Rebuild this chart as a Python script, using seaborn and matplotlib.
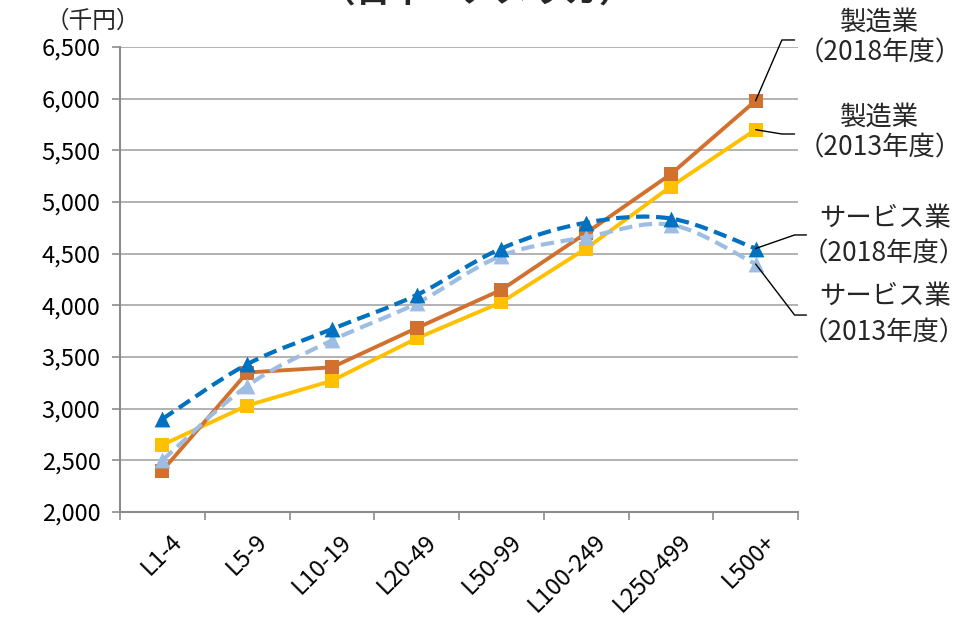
import numpy as np
import pandas as pd
import matplotlib
matplotlib.use("Agg")
import matplotlib.pyplot as plt
from matplotlib.path import Path
from matplotlib.patches import PathPatch
import seaborn as sns

# ---- data -------------------------------------------------------------
sizes = ["L1-4", "L5-9", "L10-19", "L20-49", "L50-99", "L100-249", "L250-499", "L500+"]
mfg_2018 = [2400, 3350, 3400, 3780, 4150, 4700, 5270, 5980]
mfg_2013 = [2650, 3030, 3270, 3680, 4030, 4550, 5150, 5700]
svc_2018 = [2900, 3430, 3770, 4100, 4550, 4800, 4840, 4550]
svc_2013 = [2500, 3220, 3660, 4020, 4480, 4660, 4780, 4400]
y_ticks = [2000, 2500, 3000, 3500, 4000, 4500, 5000, 5500, 6000, 6500]

label_mfg18 = ["製造業", "（2018年度）"]
label_mfg13 = ["製造業", "（2013年度）"]
label_svc18 = ["サービス業", "（2018年度）"]
label_svc13 = ["サービス業", "（2013年度）"]
unit_label = "（千円）"
title_text = "（日本・アメリカ）"

# ---- style ------------------------------------------------------------
sns.set_theme(style="white")
plt.rcParams["font.family"] = ["Noto Sans CJK JP", "DejaVu Sans"]

C_ORANGE = "#D2702E"
C_YELLOW = "#FFC000"
C_BLUE = "#0070C0"
C_LBLUE = "#9DBDE3"
GRID = "#A6A6A6"

W, H = 965, 622
fig = plt.figure(figsize=(W / 100, H / 100), dpi=100)
ax = fig.add_axes([120 / W, 1 - 512 / H, (798 - 120) / W, (512 - 47) / H])

x = np.arange(len(sizes))
df = pd.DataFrame({"x": x, "mfg18": mfg_2018, "mfg13": mfg_2013,
                   "svc18": svc_2018, "svc13": svc_2013})

# manufacturing: straight lines with square markers
sns.lineplot(data=df, x="x", y="mfg13", ax=ax, color=C_YELLOW, lw=2.8,
             marker="s", markersize=10, markeredgewidth=0, zorder=3)
sns.lineplot(data=df, x="x", y="mfg18", ax=ax, color=C_ORANGE, lw=2.8,
             marker="s", markersize=10, markeredgewidth=0, zorder=4)


def smooth_path(xs, ys):
    """Cubic Bezier path through the points (Catmull-Rom style tangents)."""
    pts = np.column_stack([xs, ys]).astype(float)
    n = len(pts)
    verts = [pts[0]]
    codes = [Path.MOVETO]
    for i in range(n - 1):
        p0 = pts[i - 1] if i > 0 else pts[i]
        p1 = pts[i]
        p2 = pts[i + 1]
        p3 = pts[i + 2] if i + 2 < n else pts[i + 1]
        c1 = p1 + (p2 - p0) / 6.0
        c2 = p2 - (p3 - p1) / 6.0
        verts += [c1, c2, p2]
        codes += [Path.CURVE4] * 3
    return Path(verts, codes)


# services: smoothed dashed lines with triangle markers
for col, color, z in [("svc13", C_LBLUE, 5), ("svc18", C_BLUE, 6)]:
    patch = PathPatch(smooth_path(df["x"], df[col]), fill=False, edgecolor=color,
                      lw=3.0, linestyle=(0, (3.2, 1.6)), zorder=z, capstyle="butt")
    ax.add_patch(patch)
    sns.scatterplot(data=df, x="x", y=col, ax=ax, color=color, marker="^",
                    s=130, linewidth=0, zorder=z + 0.5)

# ---- axes -------------------------------------------------------------
ax.set_xlim(-0.5, len(sizes) - 0.5)
ax.set_ylim(2000, 6500)
ax.set_yticks(y_ticks)
ax.set_yticklabels([f"{v:,}" for v in y_ticks])
ax.set_xticks(np.arange(-0.5, len(sizes)), minor=False)
ax.set_xticklabels([])
ax.set_xticks(x, minor=True)
ax.set_xticklabels(sizes, minor=True, rotation=45, ha="right",
                   rotation_mode="anchor")
ax.set_xlabel("")
ax.set_ylabel("")
ax.grid(axis="y", color=GRID, lw=1.2)
ax.set_axisbelow(True)
for s in ["top", "right"]:
    ax.spines[s].set_visible(False)
for s in ["left", "bottom"]:
    ax.spines[s].set_color("#8C8C8C")
    ax.spines[s].set_linewidth(1.5)
ax.tick_params(axis="y", which="major", left=True, length=6, width=1.2,
               color="#8C8C8C", labelsize=17, pad=8, labelcolor="black")
ax.tick_params(axis="x", which="major", bottom=True, length=6, width=1.2,
               color="#8C8C8C", direction="out")
ax.tick_params(axis="x", which="minor", bottom=False, length=0, labelsize=17,
               pad=13, labelcolor="black")
for lbl in ax.get_xticklabels(minor=True):
    lbl.set_transform(lbl.get_transform() +
                      matplotlib.transforms.ScaledTranslation(8 / 100, 0, fig.dpi_scale_trans))

# ---- texts ------------------------------------------------------------
fig.text(93 / W, 1 - 21 / H, unit_label, fontsize=17, ha="center", va="center")
fig.text(477 / W, 1 - 3 / H, title_text, fontsize=25, ha="center",
         va="baseline", fontweight="bold")

last = len(sizes) - 1
leaders = [
    (mfg_2018[last], 7.31, 6568, 7.46, label_mfg18, (22, 53), (880, 880)),
    (mfg_2013[last], 7.31, 5658, 7.46, label_mfg13, (117, 148), (880, 880)),
    (svc_2018[last], 7.46, 4681, 7.60, label_svc18, (218, 254), (885, 884)),
    (svc_2013[last], 7.46, 3906, 7.60, label_svc13, (297, 333), (885, 884)),
]
for val, ex, ey, hx, lines, ys, xs in leaders:
    ax.plot([last, ex, hx], [val, ey, ey], color="black", lw=1.0,
            clip_on=False, zorder=10)
    for txt, ty, tx in zip(lines, ys, xs):
        fig.text(tx / W, 1 - ty / H, txt, fontsize=19, ha="center", va="center")

fig.savefig("out.png", dpi=100)
